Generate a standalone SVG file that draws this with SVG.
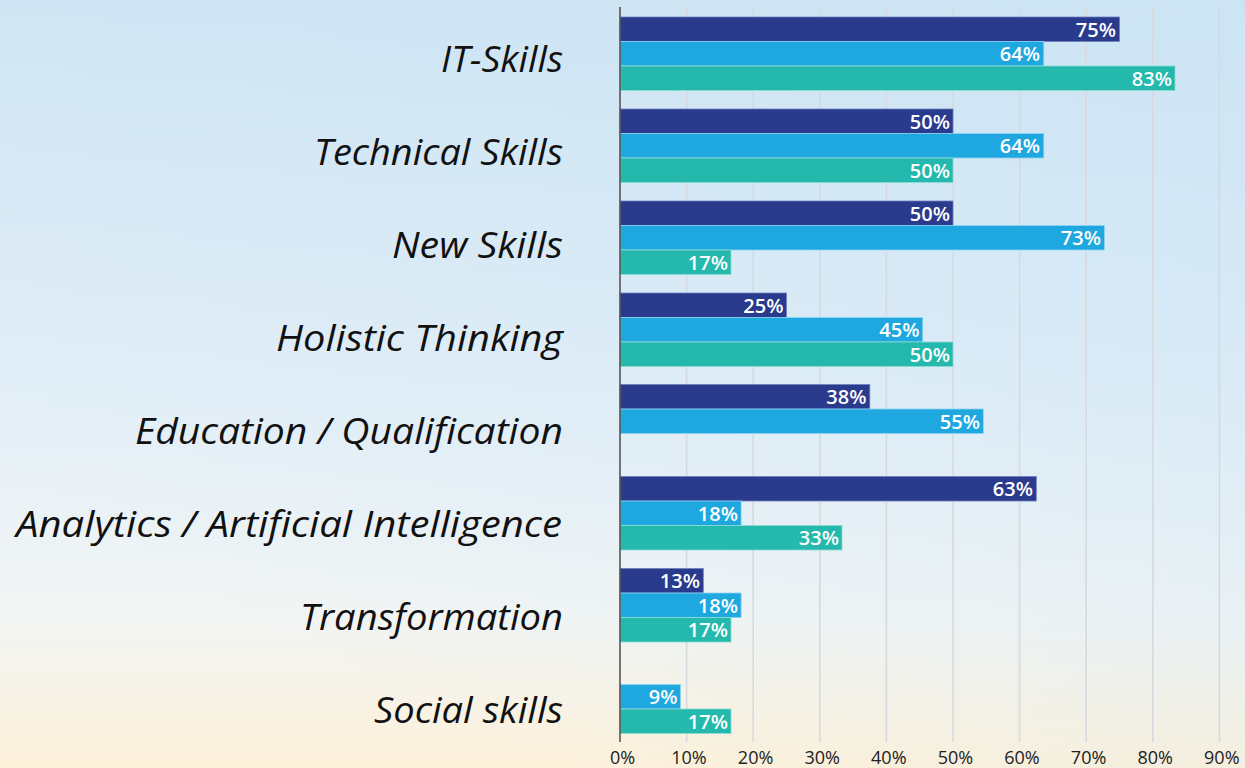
<svg xmlns="http://www.w3.org/2000/svg" width="1245" height="768" viewBox="0 0 1245 768">
<defs>
<linearGradient id="bg" x1="0" y1="0" x2="0" y2="1">
<stop offset="0" stop-color="#d3e6f3"/>
<stop offset="0.5" stop-color="#e3eff8"/>
<stop offset="0.8" stop-color="#f2f5f4"/>
<stop offset="1" stop-color="#fdf1da"/>
</linearGradient>
<linearGradient id="side" x1="0.3" y1="0.9" x2="1" y2="0">
<stop offset="0" stop-color="#c6e2f5" stop-opacity="0"/>
<stop offset="1" stop-color="#c6e2f5" stop-opacity="0.5"/>
</linearGradient>
<style>
.cat{font-family:"Open Sans","Liberation Sans",sans-serif;font-style:italic;font-size:37px;fill:#111;text-anchor:end}
.val{font-family:"Open Sans","Liberation Sans",sans-serif;font-weight:600;font-size:20px;fill:#fff;text-anchor:end}
.tick{font-family:"Open Sans","Liberation Sans",sans-serif;font-size:18px;fill:#222;text-anchor:middle}
.grid{stroke:#d6dadf;stroke-width:1.6}
.d{fill:#2a3a8c;stroke:#6f7fc0;stroke-width:0.8}
.l{fill:#1fa8e0;stroke:#8fd3f2;stroke-width:0.8}
.t{fill:#25b8ad;stroke:#8ddcd4;stroke-width:0.8}
</style>
</defs>
<rect width="1245" height="768" fill="url(#bg)"/>
<rect width="1245" height="768" fill="url(#side)"/>
<g id="grid">
<line class="grid" x1="686.6" y1="7" x2="686.6" y2="742"/>
<line class="grid" x1="753.2" y1="7" x2="753.2" y2="742"/>
<line class="grid" x1="819.8" y1="7" x2="819.8" y2="742"/>
<line class="grid" x1="886.4" y1="7" x2="886.4" y2="742"/>
<line class="grid" x1="953" y1="7" x2="953" y2="742"/>
<line class="grid" x1="1019.6" y1="7" x2="1019.6" y2="742"/>
<line class="grid" x1="1086.2" y1="7" x2="1086.2" y2="742"/>
<line class="grid" x1="1152.8" y1="7" x2="1152.8" y2="742"/>
<line class="grid" x1="1219.4" y1="7" x2="1219.4" y2="742"/>
</g>
<g id="ticks">
<text class="tick" x="622.5" y="764">0%</text>
<text class="tick" x="689" y="764">10%</text>
<text class="tick" x="755.6" y="764">20%</text>
<text class="tick" x="822.2" y="764">30%</text>
<text class="tick" x="888.8" y="764">40%</text>
<text class="tick" x="955.4" y="764">50%</text>
<text class="tick" x="1022" y="764">60%</text>
<text class="tick" x="1088.6" y="764">70%</text>
<text class="tick" x="1155.2" y="764">80%</text>
<text class="tick" x="1221.8" y="764">90%</text>
</g>
<g id="it-skills">
<text class="cat" x="563" y="71.5" textLength="122" lengthAdjust="spacingAndGlyphs">IT-Skills</text>
<rect class="d" x="620" y="17" width="499.5" height="24.5"/><text class="val" x="1116" y="36.5">75%</text>
<rect class="l" x="620" y="41.5" width="423.8" height="24.5"/><text class="val" x="1040" y="61">64%</text>
<rect class="t" x="620" y="66" width="555" height="24.5"/><text class="val" x="1172" y="85.5">83%</text>
</g>
<g id="technical-skills">
<text class="cat" x="563" y="164.5" textLength="249" lengthAdjust="spacingAndGlyphs">Technical Skills</text>
<rect class="d" x="620" y="109" width="333" height="24.5"/><text class="val" x="950" y="128.5">50%</text>
<rect class="l" x="620" y="133.5" width="423.8" height="24.5"/><text class="val" x="1040" y="153">64%</text>
<rect class="t" x="620" y="158" width="333" height="24.5"/><text class="val" x="950" y="177.5">50%</text>
</g>
<g id="new-skills">
<text class="cat" x="563" y="258" textLength="171" lengthAdjust="spacingAndGlyphs">New Skills</text>
<rect class="d" x="620" y="201" width="333" height="24.5"/><text class="val" x="950" y="220.5">50%</text>
<rect class="l" x="620" y="225.5" width="484.4" height="24.5"/><text class="val" x="1101" y="245">73%</text>
<rect class="t" x="620" y="250" width="111" height="24.5"/><text class="val" x="728" y="269.5">17%</text>
</g>
<g id="holistic-thinking">
<text class="cat" x="563" y="351" textLength="287" lengthAdjust="spacingAndGlyphs">Holistic Thinking</text>
<rect class="d" x="620" y="293" width="166.5" height="24.5"/><text class="val" x="783.5" y="312.5">25%</text>
<rect class="l" x="620" y="317.5" width="302.7" height="24.5"/><text class="val" x="919.5" y="337">45%</text>
<rect class="t" x="620" y="342" width="333" height="24.5"/><text class="val" x="950" y="361.5">50%</text>
</g>
<g id="education-qualification">
<text class="cat" x="563" y="444" textLength="428" lengthAdjust="spacingAndGlyphs">Education / Qualification</text>
<rect class="d" x="620" y="384.5" width="249.8" height="24.5"/><text class="val" x="866.5" y="404">38%</text>
<rect class="l" x="620" y="409" width="363.3" height="24.5"/><text class="val" x="980" y="428.5">55%</text>
</g>
<g id="analytics-ai">
<text class="cat" x="562" y="537" textLength="546" lengthAdjust="spacingAndGlyphs">Analytics / Artificial Intelligence</text>
<rect class="d" x="620" y="476.5" width="416.3" height="24.5"/><text class="val" x="1033" y="496">63%</text>
<rect class="l" x="620" y="501" width="121.1" height="24.5"/><text class="val" x="738" y="520.5">18%</text>
<rect class="t" x="620" y="525.5" width="222" height="24.5"/><text class="val" x="839" y="545">33%</text>
</g>
<g id="transformation">
<text class="cat" x="563" y="630" textLength="263" lengthAdjust="spacingAndGlyphs">Transformation</text>
<rect class="d" x="620" y="568.5" width="83.3" height="24.5"/><text class="val" x="700" y="588">13%</text>
<rect class="l" x="620" y="593" width="121.1" height="24.5"/><text class="val" x="738" y="612.5">18%</text>
<rect class="t" x="620" y="617.5" width="111" height="24.5"/><text class="val" x="728" y="637">17%</text>
</g>
<g id="social-skills">
<text class="cat" x="563" y="723" textLength="189" lengthAdjust="spacingAndGlyphs">Social skills</text>
<rect class="l" x="620" y="684.5" width="60.5" height="24.5"/><text class="val" x="677.5" y="704">9%</text>
<rect class="t" x="620" y="709" width="111" height="24.5"/><text class="val" x="728" y="728.5">17%</text>
</g>
<g id="axis">
<line x1="620" y1="7" x2="620" y2="742" stroke="#555" stroke-width="1.6"/>
</g>
</svg>
